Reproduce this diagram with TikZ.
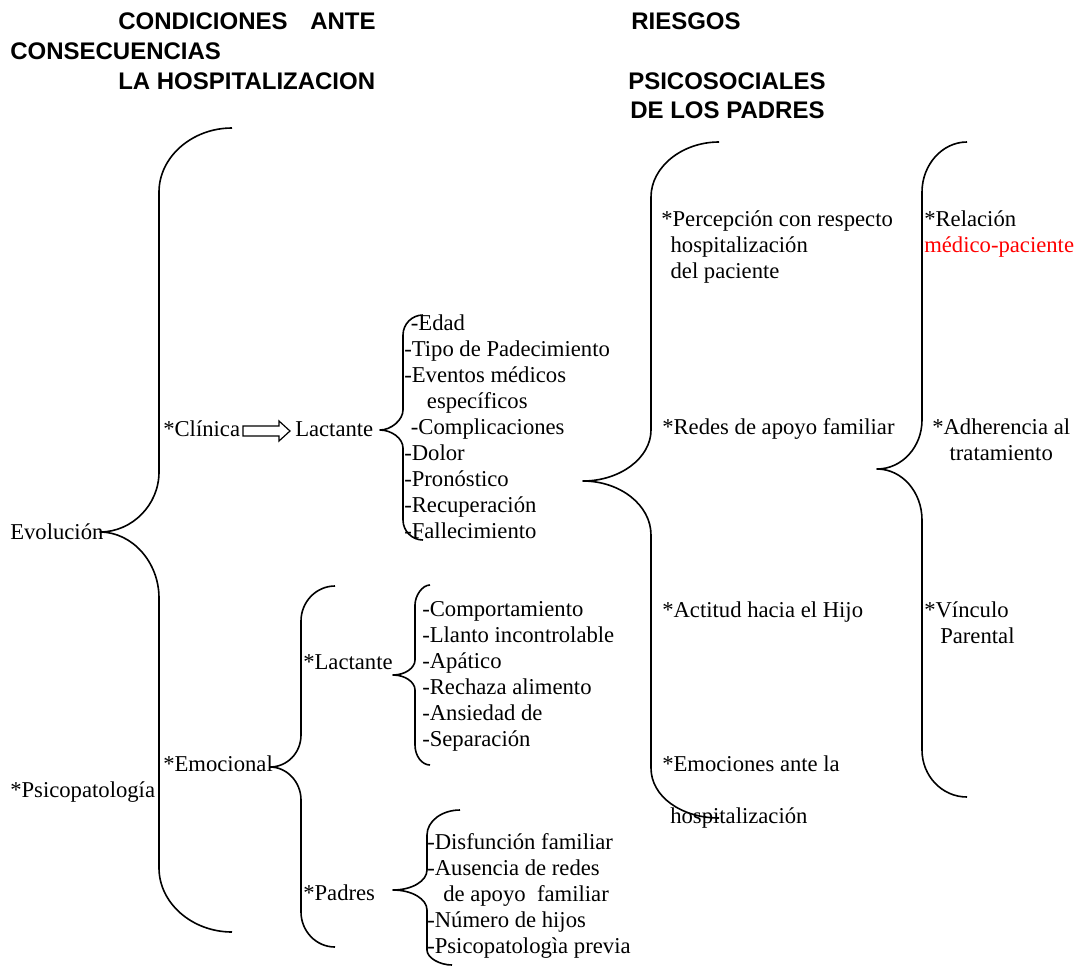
\documentclass[tikz,border=0pt]{standalone}
\usepackage{fontspec}
\setmainfont{Liberation Serif}
\newfontfamily\titlefont{Liberation Sans}
\usepackage{xcolor}
\definecolor{redtxt}{RGB}{255,0,0}
\newcommand{\mlines}[1]{\begin{tabular}[t]{@{}l@{}}#1\end{tabular}}
\begin{document}
\begin{tikzpicture}[x=0.75pt,y=-0.75pt,
  txt/.style={anchor=base west,inner sep=0pt,font=\fontsize{17}{19.5}\selectfont},
  ttl/.style={anchor=base west,inner sep=0pt,font=\fontsize{18}{21}\selectfont\titlefont\bfseries},
  brc/.style={draw=black,line width=1.2pt,line join=round}]
\useasboundingbox (0,0) rectangle (1077,967);

% titles
\node[ttl] (t1) at (118,29) {CONDICIONES\hspace{17pt}ANTE};
\node[ttl] (t2) at (10,59) {CONSECUENCIAS};
\node[ttl] (t3) at (118,89) {LA HOSPITALIZACION};
\node[ttl] (t4) at (631,29) {RIESGOS};
\node[ttl] (t5) at (628,89) {PSICOSOCIALES};
\node[ttl] (t6) at (630,118) {DE LOS PADRES};

% left column
\node[txt] (evol) at (10,539) {Evolución};
\node[txt] (psico) at (10,797) {*Psicopatología};
\node[txt] (clin) at (163,436) {*Clínica};
\node[txt] (lact) at (295,436) {Lactante};
\node[txt] (emoc) at (163,771) {*Emocional};
\node[txt] (elact) at (303,669) {*Lactante};
\node[txt] (padr) at (303,900) {*Padres};

% lists
\node[txt] (lista) at (404,330) {\mlines{\hspace*{5pt}-Edad\\-Tipo de Padecimiento\\-Eventos médicos\\\hspace*{17pt}específicos\\\hspace*{5pt}-Complicaciones\\-Dolor\\-Pronóstico\\-Recuperación\\-Fallecimiento}};
\node[txt] (listb) at (422,616) {\mlines{-Comportamiento\\-Llanto incontrolable\\-Apático\\-Rechaza alimento\\-Ansiedad de\\-Separación}};
\node[txt] (listc) at (427,849) {\mlines{-Disfunción familiar\\-Ausencia de redes\\\hspace*{12pt}de apoyo\ \ familiar\\-Número de hijos\\-Psicopatologìa previa}};

% riesgos column
\node[txt] (perc) at (661,226) {\mlines{*Percepción con respecto\\\hspace*{7pt}hospitalización\\\hspace*{7pt}del paciente}};
\node[txt] (redes) at (662,434) {*Redes de apoyo familiar};
\node[txt] (actit) at (662,617) {*Actitud hacia el Hijo};
\node[txt] (emoci) at (662,771) {\mlines{*Emociones ante la\\ \\\hspace*{6pt}hospitalización}};

% consecuencias column
\node[txt] (relac) at (924,226) {\mlines{*Relación\\\textcolor{redtxt}{médico-paciente}}};
\node[txt] (adher) at (932,434) {\mlines{*Adherencia al\\\hspace*{13pt}tratamiento}};
\node[txt] (vinc) at (924,617) {\mlines{*Vínculo\\\hspace*{12pt}Parental}};

% hollow arrow Clinica -> Lactante
\draw[line width=0.9pt,line join=miter] (243,426) -- (279,426) -- (279,421) -- (290,431) -- (279,441) -- (279,436) -- (243,436) -- cycle;

% brace 1 (Evolucion)
\draw[brc] (232,128) .. controls (192,128) and (159,157) .. (159,192) -- (159,472)
  .. controls (159,505) and (132,532) .. (100,532)
  .. controls (132,532) and (159,562) .. (159,598) -- (159,868)
  .. controls (159,903) and (192,932) .. (232,932);
% brace small (Lactante clinico)
\draw[brc] (423,315) .. controls (412,315) and (403,324) .. (403,335) -- (403,410)
  .. controls (403,420) and (391,430) .. (380,430)
  .. controls (391,430) and (403,438) .. (403,448) -- (403,520)
  .. controls (403,531) and (412,540) .. (423,540);
% brace 2 (riesgos)
\draw[brc] (719,142) .. controls (682,142) and (651,167) .. (651,197) -- (651,430)
  .. controls (651,458) and (620,481) .. (583,481)
  .. controls (620,481) and (651,505) .. (651,535) -- (651,768)
  .. controls (651,797) and (682,818) .. (719,818);
% brace 3 (consecuencias)
\draw[brc] (967,142) .. controls (942,142) and (922,165) .. (922,192) -- (922,420)
  .. controls (922,447) and (902,469) .. (877,469)
  .. controls (902,469) and (922,492) .. (922,520) -- (922,750)
  .. controls (922,776) and (942,797) .. (967,797);
% brace 4 (emocional)
\draw[brc] (335,586) .. controls (316,586) and (301,602) .. (301,621) -- (301,735)
  .. controls (301,753) and (287,767) .. (270,767)
  .. controls (287,767) and (301,782) .. (301,800) -- (301,912)
  .. controls (301,931) and (316,947) .. (335,947);
% brace 5 (lactante emocional)
\draw[brc] (430,585) .. controls (422,585) and (415,596) .. (415,605) -- (415,660)
  .. controls (415,668) and (405,675) .. (393,675)
  .. controls (405,675) and (415,682) .. (415,690) -- (415,745)
  .. controls (415,756) and (422,765) .. (430,765);
% brace 6 (padres)
\draw[brc] (460,810) .. controls (442,810) and (427,821) .. (427,835) -- (427,870)
  .. controls (427,881) and (412,890) .. (393,890)
  .. controls (412,890) and (427,899) .. (427,910) -- (427,950)
  .. controls (427,958) and (440,965) .. (452,965);
\end{tikzpicture}
\end{document}
